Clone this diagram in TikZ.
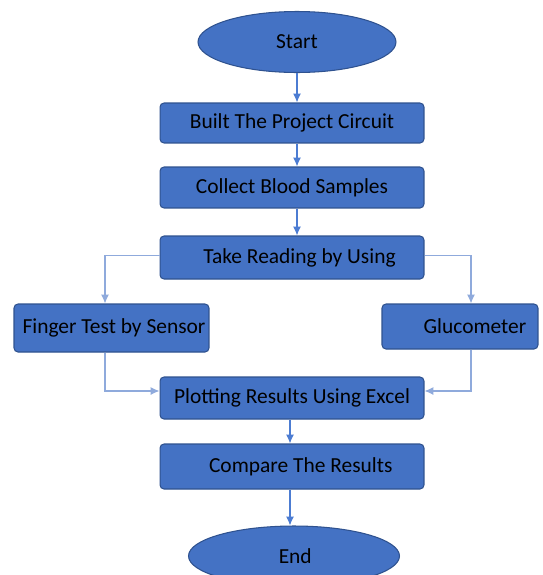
\documentclass[tikz,border=0pt]{standalone}
\usepackage{fontspec}
\setmainfont{Carlito}
\usetikzlibrary{shapes.geometric}
\usetikzlibrary{arrows.meta}
\definecolor{BoxBlue}{RGB}{68,114,196}
\definecolor{EdgeBlue}{RGB}{47,82,143}
\definecolor{LineBlue}{RGB}{76,124,210}
\definecolor{PaleBlue}{RGB}{143,170,220}

\begin{document}
\begin{tikzpicture}[x=0.02cm, y=-0.02cm,
	every node/.style={font=\fontsize{12.2}{14}\selectfont, text=black},
	stepbox/.style={rectangle, rounded corners=0.08cm, fill=BoxBlue, draw=EdgeBlue, line width=0.6pt, inner sep=0pt},
	endpoint/.style={ellipse, fill=BoxBlue, draw=EdgeBlue, line width=0.6pt, inner sep=0pt},
	flow/.style={draw=LineBlue, line width=0.7pt, -{Latex[length=5pt, width=4.5pt]}},
	side/.style={draw=PaleBlue, line width=0.7pt, -{Latex[length=5pt, width=4.5pt]}}]
	\clip (0,0) rectangle (542,575);
	\fill[white] (0,0) rectangle (542,575);

	\node[endpoint, minimum width=3.96cm, minimum height=1.22cm] (start) at (297,42) {Start};
	\node[stepbox, minimum width=5.28cm, minimum height=0.8cm] (built) at (292,123) {Built The Project Circuit};
	\node[stepbox, minimum width=5.28cm, minimum height=0.82cm] (collect) at (292,187.5) {Collect Blood Samples};
	\node[stepbox, minimum width=5.28cm, minimum height=0.86cm] (reading) at (292,257.5) {\hspace{0.3cm}Take Reading by Using};
	\node[stepbox, minimum width=3.9cm, minimum height=0.96cm] (finger) at (111.5,328) {\hspace{0.1cm}Finger Test by Sensor};
	\node[stepbox, minimum width=3.12cm, minimum height=0.9cm] (gluco) at (460,326.5) {\hspace{0.6cm}Glucometer};
	\node[stepbox, minimum width=5.28cm, minimum height=0.84cm] (plot) at (292,398) {Plotting Results Using Excel};
	\node[stepbox, minimum width=5.28cm, minimum height=0.9cm] (compare) at (292,466.5) {\hspace{0.35cm}Compare The Results};
	\node[endpoint, minimum width=4.22cm, minimum height=1.2cm] (end) at (294,556) {\hspace{0.05cm}End};

	\draw[flow] (start.south) -- (start.south |- built.north);
	\draw[flow] ([xshift=0.1cm]built.south) -- ([xshift=0.1cm]collect.north);
	\draw[flow] ([xshift=0.1cm]collect.south) -- ([xshift=0.1cm]reading.north);
	\draw[side] ([yshift=0.04cm]reading.west) -| ([xshift=-0.13cm]finger.north);
	\draw[side] ([yshift=0.04cm]reading.east) -| ([xshift=0.22cm]gluco.north);
	\draw[side] ([xshift=-0.13cm]finger.south) |- ([yshift=0.14cm]plot.west);
	\draw[side] ([xshift=0.22cm]gluco.south) |- ([yshift=0.14cm]plot.east);
	\draw[flow] ([xshift=-0.04cm]plot.south) -- ([xshift=-0.04cm]compare.north);
	\draw[flow] ([xshift=-0.04cm]compare.south) -- ([xshift=-0.04cm]compare.south |- end.north);

\end{tikzpicture}
\end{document}
